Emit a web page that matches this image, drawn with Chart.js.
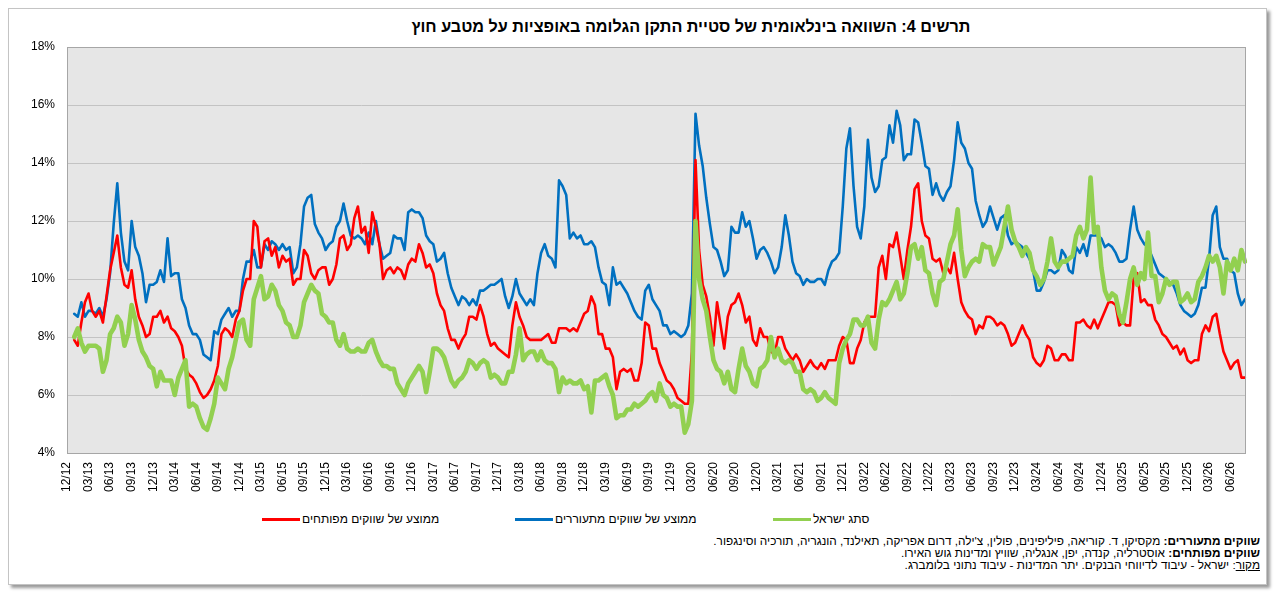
<!DOCTYPE html>
<html lang="he">
<head>
<meta charset="utf-8">
<script src="https://cdn.jsdelivr.net/npm/chart.js@4.4.1/dist/chart.umd.min.js"></script>
<style>
    body { margin: 0; width: 1276px; height: 592px; overflow: hidden; background: #fff; font-family: "Liberation Sans", Arial, sans-serif; color: #000; }
    #frame { position: absolute; left: 8px; top: 8px; width: 1257px; height: 575px; border: 1px solid #c4c4c4; box-shadow: 3px 3px 3px #9a9a9a; background: #fff; }
    #chartWrap { position: absolute; left: 0; top: 0; width: 1276px; height: 505px; }
    #title { position: absolute; top: 17px; left: 391px; width: 600px; text-align: center; font-weight: bold; font-size: 16.2px; direction: rtl; white-space: nowrap; }
    .lg-line { position: absolute; height: 3px; top: 518px; }
    .lg-text { position: absolute; top: 512px; font-size: 12px; direction: rtl; white-space: nowrap; }
    #notes { position: absolute; right: 16px; top: 535px; direction: rtl; text-align: right; font-size: 11.8px; line-height: 12px; white-space: nowrap; }
</style>
</head>
<body>
<div id="frame"></div>
<div id="title"></div>
<div id="chartWrap"><canvas id="volChart" width="1276" height="505"></canvas></div>
<div id="legend"></div>
<div id="notes">
    <div><b>שווקים מתעוררים:</b> מקסיקו, ד. קוריאה, פיליפינים, פולין, צ'ילה, דרום אפריקה, תאילנד, הונגריה, תורכיה וסינגפור.</div>
    <div><b>שווקים מפותחים:</b> אוסטרליה, קנדה, יפן, אנגליה, שוויץ ומדינות גוש האירו.</div>
    <div><u>מקור</u>: ישראל - עיבוד לדיווחי הבנקים. יתר המדינות - עיבוד נתוני בלומברג.</div>
</div>
<script>
// quarterly tick labels (one every 6 half-month points)
const tickLabels = ['12/12','03/13','06/13','09/13','12/13','03/14','06/14','09/14','12/14','03/15','06/15','09/15','12/15','03/16','06/16','09/16','12/16','03/17','06/17','09/17','12/17','03/18','06/18','09/18','12/18','03/19','06/19','09/19','12/19','03/20','06/20','09/20','12/20','03/21','06/21','09/21','12/21','03/22','06/22','09/22','12/22','03/23','06/23','09/23','12/23','03/24','06/24','09/24','12/24','03/25','06/25','09/25','12/25','03/26','06/26'];

const chartTitle = 'תרשים 4: השוואה בינלאומית של סטיית התקן הגלומה באופציות על מטבע חוץ';
const seriesNames = ['ממוצע של שווקים מפותחים', 'ממוצע של שווקים מתעוררים', 'סתג ישראל'];

// implied volatility, % (half-month readings)
const developed = [null, null,
    7.9, 7.7, 8.5, 9.2, 9.5, 8.9, 8.7, 8.9,
    8.5, 9.4, 10.3, 10.9, 11.5, 10.4, 9.8, 9.7, 10.3, 9.3,
    8.7, 8.4, 8.0, 8.1, 8.7, 8.7, 8.9, 8.5, 8.7, 8.3,
    8.2, 8.0, 7.7, 6.9, 6.7, 6.6, 6.4, 6.1, 5.9, 6.0,
    6.2, 6.5, 7.0, 8.1, 8.3, 8.2, 8.0, 8.6, 8.9, 9.6,
    10.0, 10.0, 12.0, 11.8, 10.4, 11.3, 11.4, 10.8, 11.1, 10.4,
    10.8, 10.6, 10.7, 9.8, 10.0, 10.0, 11.0, 10.8, 10.2, 10.0,
    10.3, 10.4, 10.4, 9.8, 10.0, 10.5, 11.4, 11.5, 11.0, 11.2,
    12.1, 12.5, 11.6, 11.8, 10.9, 12.3, 11.8, 11.2, 10.0, 10.3,
    10.4, 10.2, 10.4, 10.3, 10.0, 10.5, 10.7, 10.6, 11.2, 10.9,
    10.4, 10.5, 10.2, 9.5, 9.1, 8.9, 8.3, 7.9, 7.9, 7.6,
    7.9, 8.1, 8.7, 8.7, 8.6, 9.1, 8.7, 8.1, 7.7, 7.8,
    7.6, 7.5, 7.4, 7.3, 8.4, 9.2, 8.7, 8.4, 8.0, 7.9,
    7.9, 7.9, 7.9, 8.0, 8.1, 7.8, 7.8, 8.3, 8.3, 8.3,
    8.2, 8.3, 8.2, 8.5, 8.8, 8.9, 9.4, 9.1, 8.1, 8.1,
    7.6, 7.6, 7.3, 6.2, 6.8, 6.9, 6.8, 6.9, 6.5, 6.5,
    7.1, 8.5, 8.4, 7.6, 7.6, 7.1, 6.8, 6.5, 6.4, 6.2,
    5.9, 5.8, 5.7, 5.7, 7.5, 14.1, 11.0, 9.8, 9.4, 8.7,
    7.7, 9.2, 8.4, 7.6, 8.7, 9.1, 9.2, 9.5, 9.1, 8.5,
    8.7, 7.9, 7.7, 8.3, 8.0, 8.0, 7.5, 7.4, 8.0, 8.0,
    7.6, 7.4, 7.2, 7.4, 7.2, 6.8, 7.0, 7.2, 7.0, 6.9,
    7.1, 6.9, 7.2, 7.2, 7.2, 7.7, 8.0, 7.9, 7.1, 7.1,
    7.6, 7.9, 8.5, 8.7, 8.7, 8.7, 10.4, 10.8, 10.0, 11.2,
    11.1, 11.6, 10.8, 10.0, 11.0, 11.8, 13.1, 13.3, 12.0, 11.5,
    11.4, 10.7, 10.6, 10.7, 10.2, 10.4, 10.2, 10.9, 10.0, 9.2,
    8.9, 8.7, 8.6, 8.1, 8.4, 8.3, 8.7, 8.7, 8.6, 8.4,
    8.5, 8.4, 8.1, 7.7, 7.8, 8.1, 8.4, 8.1, 7.9, 7.3,
    7.1, 7.0, 7.2, 7.7, 7.6, 7.2, 7.2, 7.4, 7.4, 7.2,
    7.2, 8.5, 8.5, 8.6, 8.4, 8.3, 8.6, 8.3, 8.6, 8.9,
    9.2, 9.2, 9.1, 8.4, 8.5, 8.4, 8.4, 10.0, 10.2, 9.2,
    9.3, 9.1, 9.1, 8.6, 8.4, 8.1, 8.0, 7.8, 7.6, 7.7,
    7.4, 7.6, 7.2, 7.1, 7.2, 7.2, 8.1, 8.4, 8.2, 8.7,
    8.8, 8.1, 7.5, 7.2, 6.9, 7.1, 7.2, 6.6, 6.6
];

const emerging = [null, null,
    8.8, 8.7, 9.2, 8.7, 8.9, 8.9, 8.8, 9.0,
    8.7, 9.3, 10.2, 11.9, 13.3, 11.6, 10.6, 10.3, 12.0, 11.1,
    10.8, 10.2, 9.2, 9.8, 9.8, 9.9, 10.3, 9.9, 11.4, 10.1,
    10.2, 10.2, 9.3, 9.0, 8.4, 8.1, 8.1, 7.9, 7.4, 7.3,
    7.2, 8.2, 8.1, 8.6, 8.8, 9.0, 8.7, 8.9, 8.9, 10.0,
    10.6, 10.6, 11.0, 10.4, 10.4, 11.2, 11.0, 11.3, 11.2, 11.0,
    11.2, 11.0, 11.1, 10.2, 10.4, 11.2, 12.5, 12.8, 12.9, 11.9,
    11.6, 11.4, 11.0, 11.2, 11.3, 11.8, 12.0, 12.6, 12.0, 11.5,
    11.4, 11.5, 11.4, 11.2, 11.6, 11.2, 12.0, 11.2, 10.7, 10.8,
    10.9, 11.5, 11.4, 11.4, 11.0, 12.3, 12.4, 12.3, 12.3, 12.1,
    11.5, 11.3, 11.2, 10.6, 10.7, 10.9, 10.2, 9.7, 9.4, 9.1,
    9.4, 9.3, 9.1, 9.3, 9.1, 9.6, 9.6, 9.7, 9.8, 9.8,
    9.9, 10.0, 9.4, 9.0, 9.4, 10.0, 9.5, 9.3, 9.1, 9.3,
    9.1, 10.2, 10.9, 11.2, 10.8, 10.7, 10.4, 13.4, 13.2, 12.9,
    11.4, 11.6, 11.4, 11.5, 11.2, 11.2, 11.3, 11.1, 10.4, 9.9,
    9.8, 9.1, 10.4, 9.8, 9.9, 9.7, 9.5, 9.2, 8.9, 8.7,
    8.6, 9.6, 9.8, 9.3, 9.1, 8.9, 8.4, 8.4, 8.1, 8.2,
    8.1, 8.0, 8.1, 8.4, 9.5, 15.7, 14.6, 13.9, 12.8, 11.9,
    11.1, 11.0, 10.6, 10.1, 10.3, 11.8, 11.6, 11.6, 12.3, 11.8,
    12.0, 11.4, 10.7, 11.0, 11.1, 10.9, 10.6, 10.2, 10.4, 11.1,
    12.2, 11.5, 10.6, 10.2, 10.1, 9.8, 10.0, 9.9, 9.9, 10.0,
    10.0, 9.8, 10.3, 10.6, 10.7, 10.9, 12.5, 14.5, 15.2, 13.2,
    11.8, 11.4, 12.5, 14.8, 13.5, 13.0, 13.2, 14.1, 14.2, 15.3,
    14.7, 15.8, 15.3, 14.1, 14.3, 14.3, 15.5, 15.4, 14.7, 13.9,
    13.8, 12.9, 13.3, 12.9, 12.7, 13.0, 13.2, 14.1, 15.4, 14.7,
    14.5, 14.0, 13.8, 12.7, 12.2, 11.8, 12.0, 12.5, 12.1, 11.7,
    12.1, 12.2, 11.5, 11.2, 11.3, 11.2, 11.1, 10.9, 10.7, 10.3,
    9.6, 9.6, 9.9, 10.3, 10.3, 10.2, 10.3, 11.0, 10.8, 10.3,
    10.2, 11.1, 10.9, 11.2, 10.8, 11.5, 11.5, 11.5, 11.4, 11.1,
    11.2, 11.1, 10.9, 10.6, 10.6, 10.7, 11.7, 12.5, 11.7, 11.4,
    11.2, 11.1, 10.8, 10.5, 10.2, 10.1, 10.0, 9.9, 9.8, 9.5,
    9.1, 8.9, 8.8, 8.7, 8.8, 9.1, 9.7, 9.7, 10.7, 12.2,
    12.5, 11.1, 10.7, 10.7, 10.3, 10.2, 9.5, 9.1, 9.3
];

const israel = [null, null,
    8.0, 8.3, 7.8, 7.5, 7.7, 7.7, 7.7, 7.6,
    6.8, 7.2, 8.1, 8.3, 8.7, 8.5, 7.7, 8.1, 9.1, 8.6,
    7.9, 7.5, 7.3, 7.0, 6.9, 6.3, 6.8, 6.5, 6.5, 6.5,
    6.0, 6.6, 6.9, 7.2, 5.6, 5.7, 5.6, 5.2, 4.9, 4.8,
    5.2, 5.7, 6.6, 6.4, 6.2, 6.9, 7.3, 7.9, 8.5, 8.6,
    7.9, 7.7, 9.3, 9.7, 10.1, 9.3, 9.4, 9.8, 9.6, 9.1,
    8.9, 8.5, 8.4, 8.0, 8.0, 8.4, 9.2, 9.5, 9.8, 9.6,
    9.5, 8.8, 8.7, 8.5, 8.5, 7.9, 7.7, 8.1, 7.6, 7.5,
    7.5, 7.6, 7.5, 7.5, 7.8, 7.9, 7.5, 7.2, 7.0, 7.0,
    6.9, 6.9, 6.4, 6.2, 6.0, 6.4, 6.6, 6.8, 7.0, 6.8,
    6.1, 6.8, 7.6, 7.6, 7.5, 7.3, 6.9, 6.5, 6.3, 6.5,
    6.6, 6.8, 7.2, 7.1, 6.9, 7.1, 7.2, 7.1, 6.6, 6.7,
    6.6, 6.4, 6.4, 6.8, 6.8, 7.4, 8.3, 7.2, 7.4, 7.5,
    7.5, 7.2, 7.5, 7.2, 7.1, 7.1, 6.9, 6.1, 6.6, 6.4,
    6.5, 6.4, 6.4, 6.5, 6.2, 6.3, 5.4, 6.5, 6.5, 6.6,
    6.7, 6.3, 6.0, 5.2, 5.3, 5.3, 5.5, 5.5, 5.7, 5.6,
    5.7, 5.8, 6.0, 6.1, 5.8, 6.4, 6.0, 5.9, 5.6, 5.7,
    5.6, 5.6, 4.7, 5.0, 5.8, 12.0, 10.0, 9.3, 8.9, 8.0,
    7.2, 6.9, 6.8, 6.4, 6.8, 6.2, 6.1, 6.9, 7.6, 7.0,
    6.8, 6.4, 6.3, 6.9, 7.0, 7.2, 8.0, 7.3, 7.6, 7.2,
    7.1, 7.2, 7.1, 6.8, 6.8, 6.2, 6.1, 6.2, 6.1, 5.8,
    5.9, 6.1, 5.9, 5.8, 5.7, 7.1, 7.6, 7.9, 8.1, 8.6,
    8.6, 8.4, 8.4, 8.7, 7.8, 7.6, 8.6, 9.2, 9.1, 9.3,
    9.6, 9.9, 9.3, 9.5, 10.2, 11.1, 11.2, 10.7, 11.1, 10.3,
    10.2, 9.5, 9.1, 9.9, 10.0, 10.6, 11.2, 11.5, 12.4, 11.0,
    10.1, 10.4, 10.6, 10.7, 10.6, 11.2, 11.1, 11.1, 10.5, 10.8,
    11.1, 11.8, 12.5, 11.7, 11.3, 11.1, 10.8, 11.1, 10.9, 10.3,
    10.1, 9.8, 10.0, 10.6, 11.4, 10.6, 10.4, 10.6, 10.6, 10.7,
    10.8, 11.5, 11.8, 11.4, 11.7, 13.5, 11.6, 11.8, 10.4, 9.6,
    9.3, 9.5, 9.4, 8.8, 8.5, 9.2, 10.0, 10.4, 9.8, 10.2,
    10.0, 11.6, 10.1, 10.1, 9.2, 9.5, 10.0, 9.8, 9.9, 9.9,
    9.2, 9.3, 9.5, 9.2, 9.3, 9.9, 10.1, 10.4, 10.8, 10.6,
    10.8, 10.4, 9.5, 10.6, 10.3, 10.7, 10.3, 11.0, 10.6
];

const seriesColors = ['#ff0000', '#0070c0', '#92d050'];

// one category per half-month point, label only on quarter starts
const labels = developed.map((v, i) => (i % 6 === 0 && tickLabels[i / 6]) ? tickLabels[i / 6] : '');

document.getElementById('title').textContent = chartTitle;

// html legend, fixed-width slots like the original
const legendSlots = [262, 515, 773];
let legendHtml = '';
seriesNames.forEach((name, i) => {
    legendHtml += `<div class="lg-line" style="left:${legendSlots[i]}px; width:38px; background:${seriesColors[i]};"></div>`;
    legendHtml += `<div class="lg-text" style="left:${legendSlots[i] + 40}px;">${name}</div>`;
});
document.getElementById('legend').innerHTML = legendHtml;

const plotBox = {
    id: 'plotBox',
    beforeDraw(chart) {
        const a = chart.chartArea;
        const c = chart.ctx;
        c.save();
        c.fillStyle = '#e6e6e6';
        c.fillRect(a.left, a.top, a.right - a.left, a.bottom - a.top);
        c.restore();
    },
    afterDraw(chart) {
        const a = chart.chartArea;
        const c = chart.ctx;
        c.save();
        c.strokeStyle = '#a6a6a6';
        c.lineWidth = 1;
        c.strokeRect(Math.round(a.left) + 0.5, Math.round(a.top) + 0.5, Math.round(a.right - a.left), Math.round(a.bottom - a.top));
        c.restore();
    }
};

const ctx = document.getElementById('volChart').getContext('2d');
new Chart(ctx, {
    type: 'line',
    data: {
        labels: labels,
        datasets: [
            { label: seriesNames[0], data: developed, borderColor: seriesColors[0], borderWidth: 2.6, order: 2 },
            { label: seriesNames[1], data: emerging, borderColor: seriesColors[1], borderWidth: 2.6, order: 3 },
            { label: seriesNames[2], data: israel, borderColor: seriesColors[2], borderWidth: 4.6, order: 1 }
        ]
    },
    options: {
        responsive: false,
        animation: false,
        layout: { padding: { left: 0, right: 31, top: 47, bottom: 12 } },
        elements: {
            point: { radius: 0 },
            line: { tension: 0, borderJoinStyle: 'round', borderCapStyle: 'round' }
        },
        plugins: {
            legend: { display: false },
            title: { display: false },
            tooltip: { enabled: false }
        },
        scales: {
            x: {
                grid: { display: false, drawTicks: false },
                border: { display: false },
                afterFit: (s) => { s.height = 40; },
                ticks: {
                    autoSkip: false,
                    minRotation: 90,
                    maxRotation: 90,
                    padding: 9,
                    color: '#000',
                    font: { family: 'Liberation Sans', size: 12 }
                }
            },
            y: {
                min: 4,
                max: 18,
                afterFit: (s) => { s.width = 67; },
                grid: { color: '#c3c3c3', drawTicks: false },
                border: { display: false },
                ticks: {
                    stepSize: 2,
                    padding: 12,
                    color: '#000',
                    font: { family: 'Liberation Sans', size: 12 },
                    callback: (v) => v + '%'
                }
            }
        }
    },
    plugins: [plotBox]
});
</script>
</body>
</html>
